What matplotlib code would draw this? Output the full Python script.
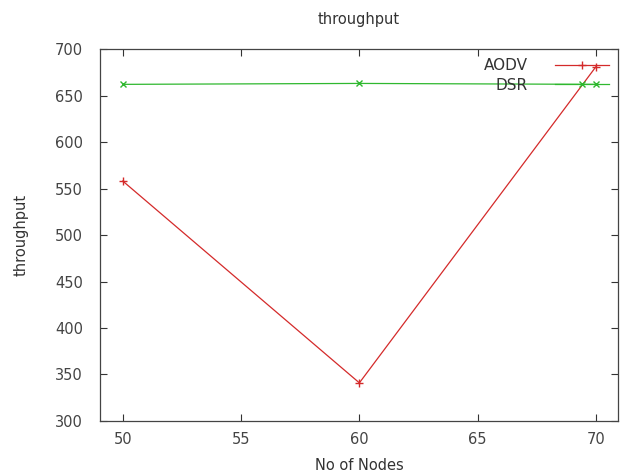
import numpy as np
import matplotlib
matplotlib.use("Agg")
import matplotlib.pyplot as plt

nodes = [50, 60, 70]
aodv = [558, 341, 681]
dsr = [662, 663, 662]

plt.rcParams['font.family'] = ['DejaVu Sans']
plt.rcParams['font.size'] = 9

fig = plt.figure(figsize=(6.28, 4.75), dpi=100)
ax = fig.add_axes([0.159, 0.1137, 0.825, 0.7831])

ax.plot(nodes, aodv, color='#d42a2a', lw=0.9, marker='+', ms=6, mew=1.0, label='AODV')
ax.plot(nodes, dsr, color='#2fb82f', lw=0.9, marker='x', ms=5, mew=1.0, label='DSR')

ax.set_xlim(49.03, 70.93)
ax.set_ylim(300, 700)
ax.set_xticks([50, 55, 60, 65, 70])
ax.set_yticks(np.arange(300, 701, 50))
ax.tick_params(direction='in', top=True, right=True, length=5, width=0.8,
               labelsize=10.5, colors='#333333', labelcolor='#444444')
ax.tick_params(axis='x', pad=8)
ax.tick_params(axis='y', pad=12)
for s in ax.spines.values():
    s.set_color('#444444')
    s.set_linewidth(0.9)

ax.set_title('throughput', fontsize=10.5, color='#333333', pad=18)
ax.set_xlabel('No of Nodes', fontsize=10.5, color='#333333', labelpad=8)
ax.set_ylabel('throughput', fontsize=10.5, color='#333333', labelpad=19)

# gnuplot-style key: label on the left, sample on the right
leg = ax.legend(loc='upper right', frameon=False, markerfirst=False, numpoints=1,
                handlelength=3.5, fontsize=11, labelspacing=0.3,
                borderaxespad=0.4, handletextpad=1.8, borderpad=0.2)
for t in leg.get_texts():
    t.set_color('#333333')

fig.savefig('out.png', dpi=100)
